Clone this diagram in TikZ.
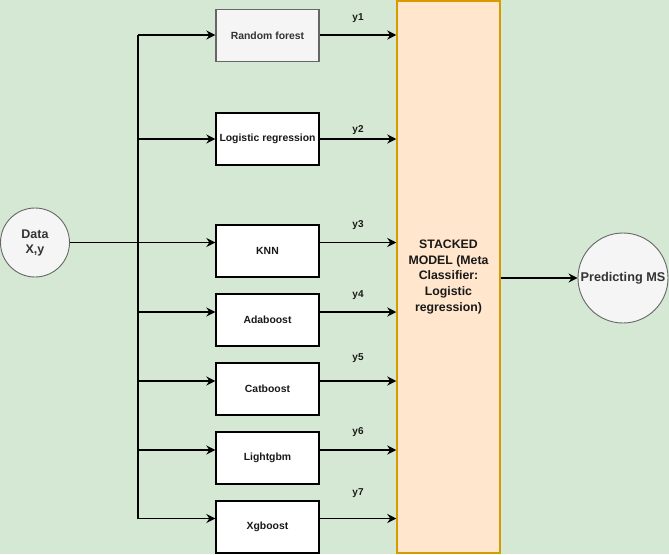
\documentclass[tikz,border=0pt]{standalone}
\usepackage{fontspec}
\setmainfont{Liberation Sans}
\usetikzlibrary{arrows.meta}
\definecolor{bg}{HTML}{D5E8D4}
\definecolor{stackfill}{HTML}{FFE6CC}
\definecolor{stackdraw}{HTML}{D79B00}
\definecolor{greyfill}{HTML}{F5F5F5}
\definecolor{greydraw}{HTML}{666666}
\definecolor{greytext}{HTML}{333333}
\tikzset{
  base/.style={font=\fontsize{10.4}{12}\selectfont\bfseries, inner sep=0pt},
  model/.style={base, draw=black, fill=white, line width=1.4pt, minimum width=103pt, minimum height=52pt, text=black!90},
  greymodel/.style={model, draw=greydraw, fill=greyfill, text=greytext},
  ylab/.style={base, font=\fontsize{10}{12}\selectfont\bfseries, text=black!90},
  arr/.style={line width=1.4pt, -{Stealth[length=9pt,width=9pt,inset=3pt]}},
  wire/.style={line width=1.4pt},
  roundnode/.style={circle, draw=greydraw, fill=greyfill, line width=0.9pt, inner sep=0pt, text=greytext, align=center}
}
\begin{document}
\begin{tikzpicture}[x=1pt,y=-1pt]
\fill[bg] (0,0) rectangle (669,554);
\useasboundingbox (0,0) rectangle (669,554);

% stacked model
\node[draw=stackdraw, fill=stackfill, line width=1.5pt, minimum width=103pt, minimum height=552pt, inner sep=0pt,
      align=center, font=\fontsize{12.3}{15.6}\selectfont\bfseries, text=black!90] (stk) at (448.5,277)
  {STACKED\\MODEL (Meta\\Classifier:\\Logistic\\regression)};

% data and prediction
\node[roundnode, minimum size=69pt, font=\fontsize{12.5}{15}\selectfont\bfseries] (data) at (35,242.5) {Data\\X,y};
\node[roundnode, minimum size=90pt, font=\fontsize{12.7}{15}\selectfont\bfseries] (pred) at (623,278) {Predicting MS};

% base models
\node[greymodel] (m1) at (267.5,35.3) {Random forest};
\node[model] (m2) at (267.5,139) {Logistic regression};
\node[model] (m3) at (267.5,251) {KNN};
\node[model] (m4) at (267.5,320) {Adaboost};
\node[model] (m5) at (267.5,389) {Catboost};
\node[model] (m6) at (267.5,458) {Lightgbm};
\node[model] (m7) at (267.5,527) {Xgboost};

% bus coordinates
\coordinate (b1) at (138,35);
\coordinate (b2) at (138,139);
\coordinate (b3) at (138,242.5);
\coordinate (b4) at (138,312);
\coordinate (b5) at (138,381);
\coordinate (b6) at (138,450);
\coordinate (b7) at (138,518.5);

\draw[wire] (b1) -- (b7);
\draw[wire] (data.east) -- (b3);
\foreach \i in {1,...,7} {
  \draw[arr] (b\i) -- (m\i.west |- b\i);
  \draw[arr] (m\i.east |- b\i) -- (stk.west |- b\i);
}

% y labels
\node[ylab] (y1) at (358,18.5) {y1};
\node[ylab] (y2) at (358,130) {y2};
\node[ylab] (y3) at (358,225) {y3};
\node[ylab] (y4) at (358,295) {y4};
\node[ylab] (y5) at (358,358) {y5};
\node[ylab] (y6) at (358,432) {y6};
\node[ylab] (y7) at (358,493) {y7};

\draw[arr] (stk.east |- pred) -- (pred.west);
\end{tikzpicture}
\end{document}
